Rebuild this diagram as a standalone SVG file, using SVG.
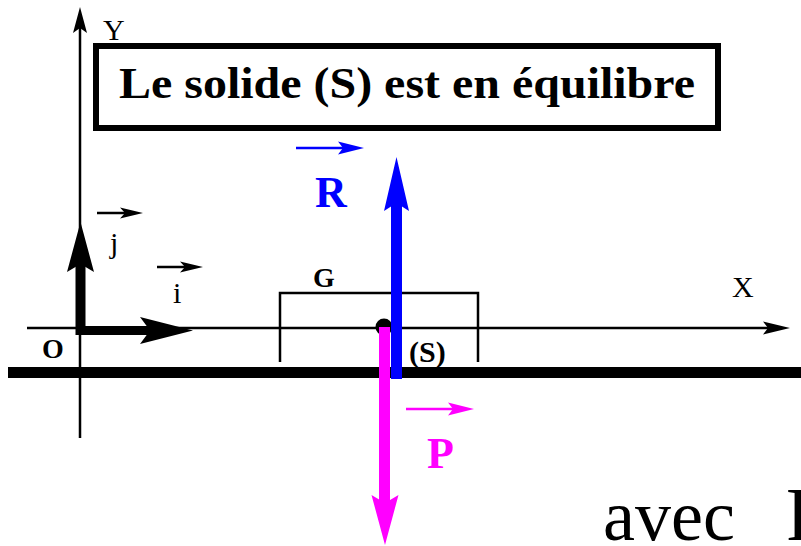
<svg xmlns="http://www.w3.org/2000/svg" width="801" height="546" viewBox="0 0 801 546">
<style>
.t{font-family:"Liberation Serif","Times New Roman",serif;fill:#000}
.b{font-weight:bold}
.ax{stroke:#000;stroke-width:2.5;fill:none}
</style>
<rect width="801" height="546" fill="#fff"/>
<g id="ground"><rect x="8" y="367" width="793" height="11" fill="#000"/></g>
<g id="connectors">
  <g id="y-axis"><line class="ax" x1="80" y1="438" x2="80" y2="25"/><polygon points="80,7 73,33 80,28 87,33" fill="#000"/></g>
  <g id="x-axis"><line class="ax" x1="27" y1="328" x2="775" y2="328"/><polygon points="790,328 763,321.5 768,328 763,334.5" fill="#000"/></g>
  <g id="vec-j"><line x1="80.5" y1="335" x2="80.5" y2="262" stroke="#000" stroke-width="10"/><polygon points="80.5,222 67,272 80.5,264 94,272" fill="#000"/></g>
  <g id="vec-i"><line x1="76" y1="330.5" x2="150" y2="330.5" stroke="#000" stroke-width="9"/><polygon points="193,330.5 140,317 150,330.5 140,344" fill="#000"/></g>
  <g id="arrow-j"><line x1="97" y1="213" x2="130" y2="213" stroke="#000" stroke-width="2.5"/><polygon points="143,213 120,207.5 125,213 120,218.5" fill="#000"/></g>
  <g id="arrow-i"><line x1="157" y1="267" x2="190" y2="267" stroke="#000" stroke-width="2.5"/><polygon points="203,267 180,261.5 185,267 180,272.5" fill="#000"/></g>
  <g id="arrow-R"><line x1="296" y1="148" x2="350" y2="148" stroke="#00f" stroke-width="2.5"/><polygon points="364,148 338,141.5 343,148 338,154.5" fill="#00f"/></g>
  <g id="arrow-P"><line x1="406" y1="409" x2="460" y2="409" stroke="#f0f" stroke-width="2.5"/><polygon points="474,409 448,402.5 453,409 448,415.5" fill="#f0f"/></g>
</g>
<g id="solid">
  <polyline class="ax" points="280,362 280,293 478,293 478,362"/>
  <circle cx="384" cy="327" r="8.5" fill="#000"/>
</g>
<g id="force-P"><rect x="379" y="327" width="11" height="176" fill="#f0f"/><polygon points="385,545 371.5,495 385,503 398.5,495" fill="#f0f"/></g>
<g id="force-R"><rect x="391" y="200" width="11" height="179" fill="#00f"/><polygon points="396.5,157 384,211 396.5,203 409,211" fill="#00f"/></g>
<g id="title-box">
  <rect x="96" y="46" width="622" height="82" fill="#fff" stroke="#000" stroke-width="6"/>
  <text class="t b" x="119" y="98" font-size="44" textLength="576" lengthAdjust="spacingAndGlyphs">Le solide (S) est en équilibre</text>
</g>
<g id="labels">
  <text class="t" x="103" y="40" font-size="30">Y</text>
  <text class="t" x="732" y="297" font-size="30">X</text>
  <text class="t" x="110" y="253" font-size="30">j</text>
  <text class="t" x="173" y="303" font-size="30">i</text>
  <text class="t b" x="313" y="287" font-size="28">G</text>
  <text class="t b" x="42" y="358" font-size="28">O</text>
  <text class="t b" x="409" y="362" font-size="30">(S)</text>
  <text class="t b" x="315" y="207" font-size="44" style="fill:#00f">R</text>
  <text class="t b" x="427" y="468" font-size="44" style="fill:#f0f">P</text>
  <text class="t" x="603" y="540" font-size="72">avec</text>
  <text class="t" x="786" y="540" font-size="76">P</text>
</g>
</svg>
